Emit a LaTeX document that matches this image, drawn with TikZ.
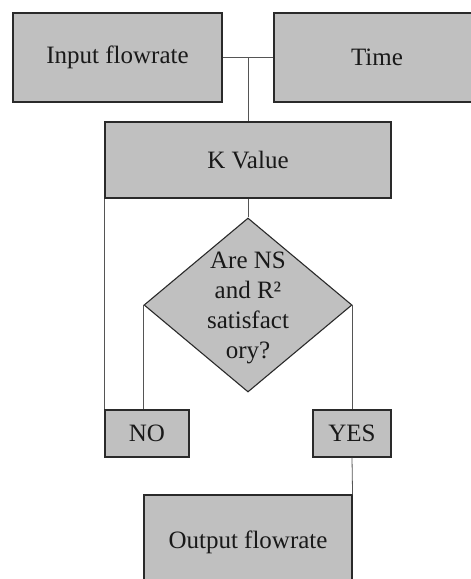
\documentclass[tikz,border=0pt]{standalone}
\usepackage{fontspec}
\setmainfont{Liberation Serif}
\usetikzlibrary{shapes.geometric}
\definecolor{boxfill}{HTML}{C0C0C0}
\definecolor{boxline}{HTML}{2A2A2A}
\definecolor{conn}{HTML}{555555}
\begin{document}
\begin{tikzpicture}[x=1pt,y=-1pt,
  box/.style={draw=boxline, fill=boxfill, line width=1.1pt, inner sep=0pt,
    font=\fontsize{25}{30}\selectfont, text=black!90},
  link/.style={draw=conn, line width=0.8pt}]
\useasboundingbox (0,0) rectangle (471,579);
\clip (0,0) rectangle (471,579);
\node[box, minimum width=209pt, minimum height=89pt] (inp) at (117.5,57.5) {Input flowrate};
\node[box, minimum width=206pt, minimum height=89pt] (time) at (377,57.5) {Time};
\node[box, minimum width=286pt, minimum height=76pt] (kv) at (248,160) {K Value};
\node[box, diamond, minimum width=208pt, minimum height=174pt] (dia) at (248,305) {};
\node[font=\fontsize{25}{30}\selectfont, text=black!90, align=center, inner sep=0pt] (diatext) at (248,307.5) {Are NS\\and R²\\satisfact\\ory?};
\node[box, minimum width=84pt, minimum height=47pt] (no) at (147,433.5) {NO};
\node[box, minimum width=78pt, minimum height=47pt] (yes) at (352,433.5) {YES};
\node[box, minimum width=208pt, minimum height=94pt] (out) at (248,542) {Output flowrate};
\coordinate (j) at (kv.north |- inp.east);
\draw[link] (inp.east) -- (time.west);
\draw[link] (j) -- (kv.north);
\draw[link] (kv.south) -- (dia.north);
\draw[link] (kv.south west) -- (no.north west);
\draw[link] (dia.west) -- (dia.west |- no.north);
\draw[link] (dia.east) -- (dia.east |- yes.north);
\draw[link] (yes.south) -- (out.north east);
\end{tikzpicture}
\end{document}
